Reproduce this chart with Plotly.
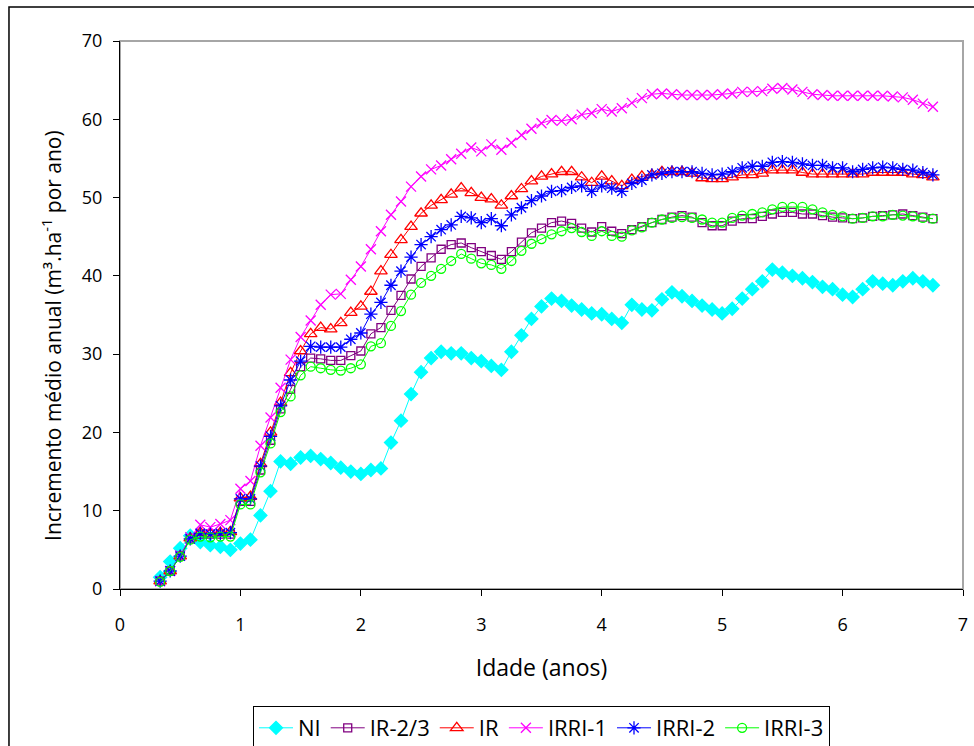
import plotly.graph_objects as go

# idade em meses (leitura mensal, de 4 a 81 meses)
meses = list(range(4, 82))
idade = [m / 12 for m in meses]

NI = [1.5, 3.5, 5.2, 6.8, 6.0, 5.6, 5.4, 5.0, 5.8, 6.3, 9.4, 12.5, 16.3,
      16.0, 16.8, 17.0,
      16.6, 16.1, 15.5, 15.0, 14.7, 15.2, 15.4, 18.7, 21.5, 24.9, 27.7, 29.5, 30.3, 30.1, 30.1, 29.5,
      29.1, 28.5, 28.0, 30.3, 32.4, 34.5,
      36.1, 37.1, 36.8, 36.2, 35.7, 35.2, 35.1, 34.5, 34.0, 36.3, 35.7, 35.6, 37.0, 37.9, 37.4, 36.8,
      36.2, 35.7, 35.2, 35.8, 37.1, 38.3, 39.3, 40.8,
      40.4, 40.0, 39.7, 39.2, 38.6, 38.3, 37.6, 37.3, 38.3, 39.3, 39.0, 38.8, 39.3, 39.7, 39.3, 38.8]

IR_23 = [1.0, 2.3, 4.2, 6.4, 7.0, 7.0, 7.0, 7.0, 11.2, 11.2, 15.2, 19.0, 23.0,
         25.5, 28.4, 29.5,
         29.4, 29.2, 29.2, 29.8, 30.4, 32.6, 33.4, 35.6, 37.5, 39.6, 41.2, 42.3, 43.4, 44.0, 44.2, 43.6,
         43.1, 42.6, 42.1, 43.1, 44.3, 45.5,
         46.1, 46.8, 47.0, 46.7, 46.1, 45.6, 46.3, 45.7, 45.4, 45.9, 46.3, 46.8, 47.2, 47.5, 47.7, 47.5,
         46.8, 46.4, 46.4, 47.0, 47.3, 47.3, 47.6, 47.9,
         48.1, 48.1, 47.9, 47.9, 47.7, 47.5, 47.4, 47.3, 47.4, 47.6, 47.7, 47.8, 47.9, 47.7, 47.5, 47.3]

IR = [1.0, 2.3, 4.2, 6.5, 7.2, 7.1, 7.2, 7.3, 11.6, 11.8, 16.0, 20.0, 23.8,
      27.6, 30.4, 32.6,
      33.4, 33.2, 34.0, 35.3, 36.1, 38.0, 40.6, 42.7, 44.6, 46.3, 48.0, 49.0, 49.7, 50.4, 51.2, 50.6,
      50.0, 49.8, 49.0, 50.2, 51.1, 52.1,
      52.7, 53.0, 53.3, 53.3, 52.6, 51.9, 52.7, 52.1, 51.5, 52.3, 52.7, 52.9, 53.3, 53.3, 53.3, 53.1,
      52.5, 52.4, 52.4, 52.6, 52.9, 52.9, 53.1, 53.5,
      53.5, 53.5, 53.2, 53.0, 53.0, 53.0, 53.0, 53.0, 53.0, 53.2, 53.2, 53.2, 53.2, 53.0, 52.9, 52.6]

IRRI_1 = [1.0, 2.3, 4.3, 6.6, 8.2, 7.9, 8.3, 8.8, 12.8, 13.8, 18.3, 21.9, 25.7,
          29.3, 32.2, 34.3,
          36.3, 37.6, 37.7, 39.5, 41.2, 43.4, 45.7, 47.8, 49.5, 51.4, 52.7, 53.6, 54.1, 54.9, 55.6, 56.4,
          55.9, 56.8, 56.1, 57.0, 58.0, 58.8,
          59.5, 59.9, 59.8, 60.0, 60.6, 60.8, 61.3, 61.0, 61.4, 62.1, 62.7, 63.2, 63.3, 63.2, 63.1, 63.1,
          63.1, 63.1, 63.2, 63.3, 63.5, 63.5, 63.6, 63.9,
          64.0, 63.8, 63.5, 63.2, 63.1, 63.0, 63.0, 63.0, 63.0, 63.0, 63.0, 62.9, 62.8, 62.5, 62.0, 61.6]

IRRI_2 = [1.0, 2.3, 4.2, 6.4, 7.1, 7.0, 7.1, 7.2, 11.5, 11.5, 15.7, 19.5, 23.4,
          26.7, 29.1, 31.0,
          30.9, 30.9, 30.9, 31.9, 32.7, 35.1, 36.6, 38.8, 40.6, 42.4, 44.0, 45.0, 45.9, 46.5, 47.6, 47.4,
          46.8, 47.3, 46.4, 47.8, 48.7, 49.6,
          50.2, 50.8, 50.9, 51.3, 51.5, 50.8, 51.5, 51.2, 50.8, 51.8, 52.2, 52.9, 53.1, 53.3, 53.3, 53.3,
          53.1, 52.9, 53.0, 53.3, 53.8, 54.0, 54.0, 54.5,
          54.6, 54.5, 54.3, 54.1, 54.1, 53.8, 53.8, 53.3, 53.6, 53.8, 53.9, 53.8, 53.6, 53.5, 53.2, 52.9]

IRRI_3 = [0.9, 2.3, 4.1, 6.3, 6.7, 6.6, 6.7, 6.7, 10.8, 10.8, 14.9, 18.6, 22.6,
          24.6, 27.3, 28.4,
          28.2, 28.0, 27.9, 28.2, 28.7, 31.0, 31.4, 33.6, 35.5, 37.6, 39.1, 40.0, 40.9, 41.9, 42.8, 42.2,
          41.6, 41.4, 40.9, 41.9, 43.2, 44.1,
          44.7, 45.3, 45.7, 46.1, 45.6, 45.1, 45.7, 45.1, 45.0, 45.8, 46.2, 46.8, 47.2, 47.4, 47.5, 47.4,
          47.2, 46.8, 46.8, 47.4, 47.7, 47.9, 48.1, 48.5,
          48.8, 48.8, 48.8, 48.5, 48.1, 47.8, 47.6, 47.3, 47.4, 47.6, 47.6, 47.8, 47.7, 47.6, 47.4, 47.3]

series = [
    ("NI", NI, "#00FFFF", "diamond", 10),
    ("IR-2/3", IR_23, "#800080", "square-open", 8),
    ("IR", IR, "#FF0000", "triangle-up-open", 11),
    ("IRRI-1", IRRI_1, "#FF00FF", "x-thin-open", 10),
    ("IRRI-2", IRRI_2, "#0000FF", "asterisk-open", 11),
    ("IRRI-3", IRRI_3, "#00FF00", "circle-open", 9),
]

FONT = "Open Sans, Lato, sans-serif"

fig = go.Figure()
for name, vals, color, sym, size in series:
    fig.add_trace(go.Scatter(
        x=idade, y=vals, name=name, mode="lines+markers",
        line=dict(color=color, width=1),
        marker=dict(symbol=sym, size=size, color=color,
                    line=dict(color=color, width=1.3)),
    ))

fig.update_layout(
    width=974, height=746,
    margin=dict(l=120, r=11, t=41, b=157, autoexpand=False),
    paper_bgcolor="white", plot_bgcolor="white",
    font=dict(family=FONT, color="black", size=18),
    showlegend=True,
    legend=dict(orientation="h", x=0.5, xanchor="center", y=-0.2135, yanchor="top",
                bordercolor="black", borderwidth=1, font=dict(size=22),
                itemwidth=34, tracegroupgap=0),
    xaxis=dict(range=[0, 7], dtick=1, tick0=0, showgrid=False, zeroline=False,
               showline=True, linecolor="black", linewidth=1, automargin=False,
               ticks="outside", ticklen=6, tickcolor="black",
               ticklabelstandoff=13,
               title=dict(text="Idade (anos)", font=dict(size=23), standoff=25)),
    yaxis=dict(range=[0, 70], dtick=10, tick0=0, showgrid=False, zeroline=False,
               showline=True, linecolor="black", linewidth=1, automargin=False,
               ticks="outside", ticklen=6, tickcolor="black",
               ticklabelstandoff=7),
    annotations=[
        dict(text="Incremento médio anual (m³.ha<sup>-1</sup> por ano)",
             xref="paper", yref="paper", x=(51 - 120) / 842.7, y=0.5 - 20 / 548,
             xanchor="center", yanchor="middle", textangle=-90, showarrow=False,
             font=dict(size=21)),
    ],
    shapes=[
        dict(type="rect", xref="paper", yref="paper", x0=0, x1=1, y0=0, y1=1,
             line=dict(color="#A6A6A6", width=2), layer="below"),
        dict(type="rect", xref="paper", yref="paper", x0=-0.1317, x1=1.04, y0=-0.33, y1=1.062,
             line=dict(color="black", width=1.5), layer="below"),
    ],
)

fig.write_html("out.html")
